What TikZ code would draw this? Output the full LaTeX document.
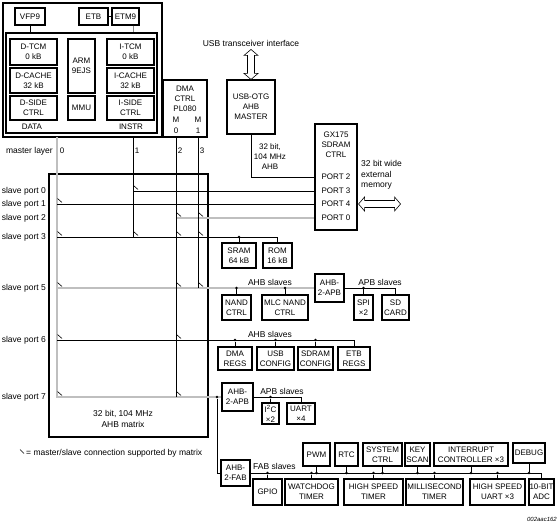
\documentclass[tikz,border=0pt]{standalone}
\usepackage{fontspec}
\setmainfont{Liberation Sans}
\newcommand\mybox[6]{\node[bx, minimum width={(#4-#2)*1pt}, minimum height={(#5-#3)*1pt}] (#1) at ({(#2+#4)/2},{(#3+#5)/2}) {#6};}
\newcommand\tk[2]{\draw[ln] ({#1+0.5},{#2-5.5}) -- ({#1+5},{#2-1.5});}
\begin{document}
\begin{tikzpicture}[x=1pt,y=-1pt,
  ft/.style={font=\fontsize{8}{10}\selectfont},
  bx/.style={draw, line width=1.1pt, inner sep=0pt, align=center, ft},
  lbl/.style={inner sep=0pt, ft},
  tx/.style={inner sep=0pt, font=\fontsize{8.5}{10.5}\selectfont},
  ln/.style={line width=0.6pt},
  gl/.style={line width=1.6pt, draw=black!25},
  jd/.style={circle, fill, inner sep=0pt, minimum size=2.6pt},
  hol/.style={line width=0.6pt, fill=white}
]
\useasboundingbox (0,0) rectangle (559,526);

% ---------------- ARM subsystem
\mybox{arm}{3}{3}{162}{137}{}
\mybox{vfp}{15}{8}{45}{25}{VFP9}
\mybox{etb}{79}{8}{108}{25}{ETB}
\mybox{etm}{112}{8}{139}{25}{ETM9}
\mybox{core}{6}{33}{157}{133}{}
\mybox{dtcm}{10}{39}{57}{65}{D-TCM\\0 kB}
\mybox{dcache}{10}{68}{57}{93}{D-CACHE\\32 kB}
\mybox{dside}{10}{96}{57}{120}{D-SIDE\\CTRL}
\mybox{arm9}{68}{39}{95}{93}{ARM\\9EJS}
\mybox{mmu}{68}{96}{95}{120}{MMU}
\mybox{itcm}{107}{39}{154}{65}{I-TCM\\0 kB}
\mybox{icache}{107}{68}{154}{93}{I-CACHE\\32 kB}
\mybox{iside}{107}{96}{154}{120}{I-SIDE\\CTRL}
\node[lbl] (data) at (32,127) {DATA};
\node[lbl] (instr) at (131,127) {INSTR};
\draw[ln] (vfp.south) -- (vfp.south |- core.north);
\draw[ln] (etb.east) -- (etm.west);
\draw[ln, draw=black!45] ([xshift=7.5pt]etm.south) -- ([xshift=7.5pt]etm.south |- core.north);

% ---------------- DMA
\mybox{dma}{163}{80}{207}{137}{}
\node[lbl, align=center] (dmat) at (185,99) {DMA\\CTRL\\PL080};
\node[lbl] (dmam0) at (176,120) {M};
\node[lbl] (dmam1) at (198,120) {M};
\node[lbl] (dman0) at (176,131) {0};
\node[lbl] (dman1) at (198,131) {1};

% ---------------- USB
\mybox{usb}{227}{80}{275}{134}{USB-OTG\\AHB\\MASTER}
\node[tx] (usbif) at (251,43) {USB transceiver interface};
\draw[hol] (usb.north) -- ++(7,-6) -- ++(-3.5,0) -- ++(0,-18) -- ++(3.5,0) -- ++(-7,-6)
  -- ++(-7,6) -- ++(3.5,0) -- ++(0,18) -- ++(-3.5,0) -- cycle;
\node[lbl, align=center] (ahbl) at (270,157) {32 bit,\\104 MHz\\AHB};

% ---------------- GX175
\mybox{gx}{315}{124}{357}{230}{}
\node[lbl, align=center] (gxt) at (336,145) {GX175\\SDRAM\\CTRL};
\node[lbl] (p2) at (336,177) {PORT 2};
\node[lbl] (p3) at (336,191) {PORT 3};
\node[lbl] (p4) at (336,204) {PORT 4};
\node[lbl] (p0) at (336,218) {PORT 0};
\node[tx, align=left, anchor=west] (extm) at (361,175) {32 bit wide\\external\\memory};
\draw[hol] (gx.east |- p4) ++(1,0) -- ++(6,-7) -- ++(0,3.5) -- ++(30,0) -- ++(0,-3.5) -- ++(6,7)
  -- ++(-6,7) -- ++(0,-3.5) -- ++(-30,0) -- ++(0,3.5) -- cycle;

% ---------------- labels for matrix
\node[tx, anchor=east] (ml) at (53,151) {master layer};
\node[lbl] (ml0) at (62,151) {0};
\node[lbl] (ml1) at (137,151) {1};
\node[lbl] (ml2) at (180,151) {2};
\node[lbl] (ml3) at (202,151) {3};
\node[tx, anchor=east] (sp0) at (46,191) {slave port 0};
\node[tx, anchor=east] (sp1) at (46,204) {slave port 1};
\node[tx, anchor=east] (sp2) at (46,218) {slave port 2};
\node[tx, anchor=east] (sp3) at (46,237) {slave port 3};
\node[tx, anchor=east] (sp5) at (46,288) {slave port 5};
\node[tx, anchor=east] (sp6) at (46,340) {slave port 6};
\node[tx, anchor=east] (sp7) at (46,397) {slave port 7};

\mybox{mtx}{49}{174}{208}{437}{}
\node[tx, align=center] (mtxl) at (123,419) {32 bit, 104 MHz\\AHB matrix};
\draw[ln] (20,449.5) -- (24,453.5);
\node[tx, anchor=west] (leg) at (26,453) {= master/slave connection supported by matrix};

% ---------------- slaves
\mybox{sram}{222}{243}{256}{268}{SRAM\\64 kB}
\mybox{rom}{263}{243}{292}{268}{ROM\\16 kB}
\mybox{nand}{222}{295}{251}{320}{NAND\\CTRL}
\mybox{mlc}{262}{295}{308}{320}{MLC NAND\\CTRL}
\mybox{apba}{315}{274}{344}{302}{AHB-\\2-APB}
\mybox{spi}{354}{295}{373}{320}{SPI\\×2}
\mybox{sdc}{382}{295}{409}{320}{SD\\CARD}
\mybox{dmar}{218}{347}{252}{370}{DMA\\REGS}
\mybox{usbc}{257}{347}{294}{370}{USB\\CONFIG}
\mybox{sdrc}{298}{347}{333}{370}{SDRAM\\CONFIG}
\mybox{etbr}{338}{347}{370}{370}{ETB\\REGS}
\mybox{apbb}{222}{383}{253}{411}{AHB-\\2-APB}
\mybox{iic}{262}{403}{279}{424}{I\textsuperscript{2}C\\×2}
\mybox{uart}{287}{403}{315}{424}{UART\\×4}
\mybox{fab}{221}{460}{250}{486}{AHB-\\2-FAB}
\mybox{pwm}{303}{443}{330}{466}{PWM}
\mybox{rtc}{335}{443}{358}{466}{RTC}
\mybox{sysc}{363}{443}{402}{466}{SYSTEM\\CTRL}
\mybox{key}{405}{443}{430}{466}{KEY\\SCAN}
\mybox{intc}{434}{443}{508}{466}{INTERRUPT\\CONTROLLER ×3}
\mybox{dbg}{513}{443}{545}{463}{DEBUG}
\mybox{gpio}{253}{479}{282}{505}{GPIO}
\mybox{wdt}{285}{479}{338}{505}{WATCHDOG\\TIMER}
\mybox{hst}{344}{479}{403}{505}{HIGH SPEED\\TIMER}
\mybox{mst}{406}{479}{463}{505}{MILLISECOND\\TIMER}
\mybox{hsu}{470}{479}{525}{505}{HIGH SPEED\\UART ×3}
\mybox{adc}{529}{479}{554}{505}{10-BIT\\ADC}

\node[tx, anchor=south] (ahbs1) at (270,286) {AHB slaves};
\node[tx, anchor=south] (apbs1) at (380,286) {APB slaves};
\node[tx, anchor=south] (ahbs2) at (270,338) {AHB slaves};
\node[tx, anchor=south] (apbs2) at (282,395) {APB slaves};
\node[tx, anchor=south west] (fabs) at (253,470) {FAB slaves};
\node[inner sep=0pt, anchor=east, font=\fontsize{6}{7}\selectfont\itshape] (ref) at (557,519) {002aac162};

% ---------------- matrix coordinates
\coordinate (m0t) at (57,137);
\coordinate (m1t) at (133,137);
\coordinate (m2t) at (176,137);
\coordinate (m3t) at (198,137);
\coordinate (s0) at (133,191);
\coordinate (s1) at (57,204);
\coordinate (s2) at (176,218);
\coordinate (s3) at (57,237);
\coordinate (s5) at (57,288);
\coordinate (s6) at (57,340);
\coordinate (fabbus) at (0,473);

% gray lines
\draw[gl] (m0t) |- (apbb.west);
\draw[gl] (s5) -- (apba.west);
\draw[gl] (s2) -- (gx.west |- p0);

% black lines
\draw[ln] (m1t) -- (133,237);
\draw[ln] (m2t) -- (176,397);
\draw[ln] (m3t) -- (198,288);
\draw[ln] (s0) -- (gx.west |- p3);
\draw[ln] (s1) -- (gx.west |- p4);
\draw[ln] (s3) -| (rom.north);
\draw[ln] (s6) -| (etbr.north);
\draw[ln] (usb.south) |- (gx.west |- p2);

% ticks
\tk{133}{191}
\tk{57}{204}
\tk{176}{218} \tk{198}{218}
\tk{57}{237} \tk{133}{237} \tk{176}{237} \tk{198}{237}
\tk{57}{288} \tk{176}{288} \tk{198}{288}
\tk{57}{340} \tk{176}{340}
\tk{57}{397} \tk{176}{397}

% slave port 3
\node[jd] (j1) at (sram.north |- s3) {};
\draw[ln] (j1) -- (sram.north);
% slave port 5
\node[jd] (j2) at (nand.north |- s5) {};
\node[jd] (j3) at (mlc.north |- s5) {};
\draw[ln] (j2) -- (nand.north);
\draw[ln] (j3) -- (mlc.north);
\draw[ln] (apba.east) -| (sdc.north);
\node[jd] (j4) at (spi.north |- apba.east) {};
\draw[ln] (j4) -- (spi.north);
% slave port 6
\node[jd] (j5) at (dmar.north |- s6) {};
\node[jd] (j6) at (usbc.north |- s6) {};
\node[jd] (j7) at (sdrc.north |- s6) {};
\draw[ln] (j5) -- (dmar.north);
\draw[ln] (j6) -- (usbc.north);
\draw[ln] (j7) -- (sdrc.north);
% slave port 7
\node[jd] (j8) at (217,397) {};
\draw[ln] (j8) |- (fab.west);
\draw[ln] (apbb.east) -| (uart.north);
\node[jd] (j9) at (iic.north |- apbb.east) {};
\draw[ln] (j9) -- (iic.north);
% FAB bus
\draw[ln] (fab.east |- fabbus) -| (adc.north);
\foreach \b in {gpio,wdt,hst,mst,hsu}{
  \node[jd] (jb\b) at (\b.north |- fabbus) {};
  \draw[ln] (jb\b) -- (\b.north);
}
\foreach \b in {pwm,rtc,sysc,key,intc,dbg}{
  \node[jd] (jt\b) at (\b.south |- fabbus) {};
  \draw[ln] (jt\b) -- (\b.south);
}
\end{tikzpicture}
\end{document}
